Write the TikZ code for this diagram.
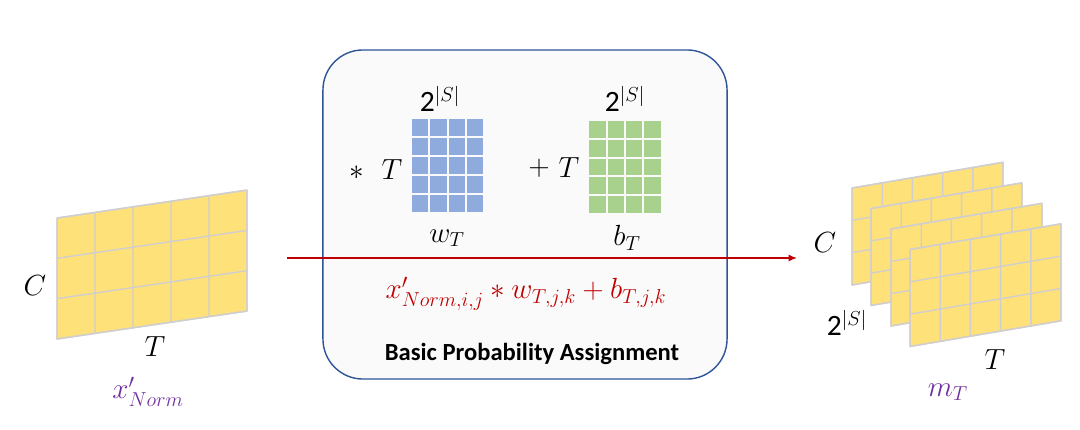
\documentclass[tikz,border=0pt]{standalone}
\usepackage{amsmath}
\usepackage{fontspec}
\setmainfont{Carlito}
\usetikzlibrary{matrix, positioning, arrows.meta}

\definecolor{jaune}{HTML}{FFE17A}
\definecolor{trait}{HTML}{D0CECE}
\definecolor{bleu}{HTML}{8FAADC}
\definecolor{vert}{HTML}{A9D18E}
\definecolor{cadre}{HTML}{2F5597}
\definecolor{rouge}{HTML}{C00000}
\definecolor{violet}{HTML}{7030A0}

\begin{document}
\begin{tikzpicture}[
  x=0.025cm, y=0.025cm,
  grille/.style={matrix of nodes, nodes in empty cells,
                 nodes={minimum width=0.41cm, minimum height=0.42cm,
                        inner sep=0pt, draw=none},
                 row sep=0.05cm, column sep=0.05cm},
  lettre/.style={font=\fontsize{21}{24}\selectfont, inner sep=1pt},
  puiss/.style={font=\fontsize{21}{24}\selectfont, inner sep=1pt},
  bpabox/.style={draw=cadre, line width=1pt, fill=black!2,
                 rounded corners=1cm,
                 minimum width=10.1cm, minimum height=8.225cm}
]
  \useasboundingbox (0,0) rectangle (1080,429);

  %=========================================================
  % 1. Entree x'_Norm : plaque inclinee C x T
  %=========================================================
  \begin{scope}[shift={(57,90)}, yslant=0.147]
    \fill[jaune] (0,0) rectangle (190,121);
    \draw[trait, line width=1pt] (0,0) grid[xstep=38, ystep=40.33] (190,121);
    \draw[trait, line width=1pt] (0,0) rectangle (190,121);
  \end{scope}
  \node[lettre] (cin) at (35,143) {$C$};
  \node[lettre] (tin) at (155,82) {$T$};
  \node[lettre, text=violet] (xnorm) at (148,37) {$x'_{Norm}$};

  %=========================================================
  % 2. Bloc Basic Probability Assignment
  %=========================================================
  \node[bpabox] (bpa) at (525,214.5) {};

  % --- poids w_T ---
  \matrix (W) [grille, nodes={fill=bleu}] at (447.5,263.5)
  {
    &&&\\ &&&\\ &&&\\ &&&\\ &&&\\
  };
  \node[puiss] (sw) at (440,330) {2$^{|S|}$};
  \node[lettre] (tw) at (392,259) {$T$};
  \node[lettre] (fois) at (357,256) {$*$};
  \node[lettre] (wt) at (447,191) {$w_T$};

  % --- biais b_T ---
  \matrix (B) [grille, nodes={fill=vert}] at (625,262)
  {
    &&&\\ &&&\\ &&&\\ &&&\\ &&&\\
  };
  \node[puiss] (sb) at (625,330) {2$^{|S|}$};
  \node[lettre] (tb) at (569,261) {$T$};
  \node[lettre] (plus) at (539,261) {$+$};
  \node[lettre] (bt) at (627,191) {$b_T$};

  % --- formule et titre ---
  \node[lettre, text=rouge, font=\fontsize{19.5}{23}\selectfont] (formule) at (526,135)
    {$x'_{Norm,i,j} * w_{T,j,k} + b_{T,j,k}$};
  \node[font=\bfseries\fontsize{17.5}{20}\selectfont] (titre) at (532,75)
    {Basic Probability Assignment};

  %=========================================================
  % 3. Fleche rouge
  %=========================================================
  \coordinate (debut) at (287,171);
  \coordinate (fin) at (797,171);
  \draw[rouge, line width=1pt, -{Latex[length=6pt, width=5pt]}] (debut) -- (fin);

  %=========================================================
  % 4. Sortie m_T : 2^|S| plaques empilees
  %=========================================================
  \foreach \dx/\dy in {852/144, 871/123.5, 891/103, 910/82.5} {
    \begin{scope}[shift={(\dx,\dy)}, yslant=0.17]
      \fill[jaune] (0,0) rectangle (151,97);
      \draw[trait, line width=1pt] (0,0) grid[xstep=30.2, ystep=32.33] (151,97);
      \draw[trait, line width=1pt] (0,0) rectangle (151,97);
    \end{scope}
  }
  \node[lettre] (cout) at (825,186) {$C$};
  \node[puiss] (sout) at (847,106) {2$^{|S|}$};
  \node[lettre] (tout) at (995,69) {$T$};
  \node[lettre, text=violet] (mt) at (948,37) {$m_T$};

\end{tikzpicture}
\end{document}
